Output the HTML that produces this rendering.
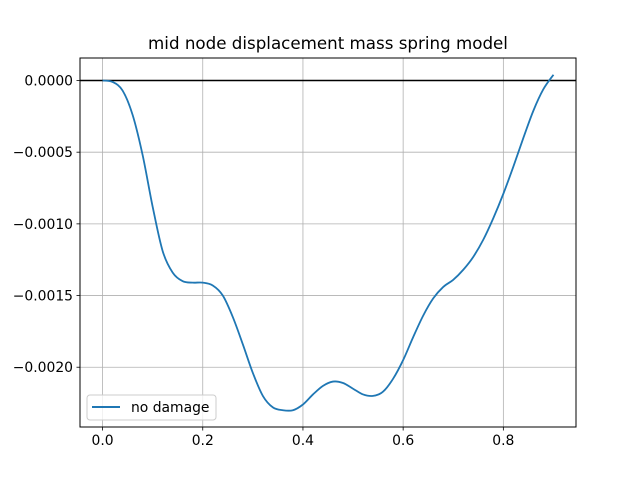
<!DOCTYPE html>
<html><head><meta charset="utf-8"><style>
body{margin:0;background:#fff;}
svg{display:block;font-family:"DejaVu Sans","Liberation Sans",sans-serif;}
</style></head><body>
<svg id="chart" width="640" height="480" viewBox="0 0 640 480">
<rect width="640" height="480" fill="#fff"/>
<text x="328" y="49" font-size="16.7" text-anchor="middle">mid node displacement mass spring model</text>
<g id="grid"></g>
<g id="plot"></g>
<rect x="80" y="58" width="496" height="369" fill="none" stroke="#000" stroke-width="1"/>
<g id="ticks"></g>
<g>
<rect x="87" y="395" width="129" height="25" rx="3" fill="#fff" fill-opacity="0.8" stroke="#ccc"/>
<line x1="92" y1="407" x2="120" y2="407" stroke="#1f77b4" stroke-width="2"/>
<text x="131" y="412" font-size="13.9">no damage</text>
</g>
</svg>
<script>
const xVals=[0,0.02,0.04,0.06,0.08,0.1,0.12,0.14,0.16,0.18,0.2,0.22,0.24,0.26,0.28,0.3,0.32,0.34,0.36,0.38,0.4,0.42,0.44,0.46,0.48,0.5,0.52,0.54,0.56,0.58,0.6,0.62,0.64,0.66,0.68,0.7,0.72,0.74,0.76,0.78,0.8,0.82,0.84,0.86,0.88,0.9];
const yVals=[0,-0.00001,-0.00007,-0.00024,-0.00052,-0.00088,-0.00119,-0.00134,-0.0014,-0.00141,-0.00141,-0.00143,-0.0015,-0.00165,-0.00184,-0.00204,-0.0022,-0.00228,-0.0023,-0.0023,-0.00226,-0.00219,-0.00213,-0.0021,-0.00211,-0.00215,-0.00219,-0.0022,-0.00217,-0.00208,-0.00195,-0.00179,-0.00164,-0.00152,-0.00144,-0.00139,-0.00132,-0.00123,-0.00111,-0.00096,-0.00079,-0.0006,-0.0004,-0.00021,-0.00006,0.00004];
const xTicks=[0,0.2,0.4,0.6,0.8];
const xTickLabels=["0.0","0.2","0.4","0.6","0.8"];
const yTicks=[0,-0.0005,-0.001,-0.0015,-0.002];
const yTickLabels=["0.0000","\u22120.0005","\u22120.0010","\u22120.0015","\u22120.0020"];
const NS="http://www.w3.org/2000/svg";
const L=80,R=576,T=58,B=427;
const xmin=Math.min(...xVals),xmax=Math.max(...xVals),ymin=Math.min(...yVals),ymax=Math.max(...yVals);
const xlo=xmin-(xmax-xmin)*0.05,xhi=xmax+(xmax-xmin)*0.05;
const ylo=ymin-(ymax-ymin)*0.05,yhi=ymax+(ymax-ymin)*0.05;
const sx=v=>L+(v-xlo)/(xhi-xlo)*(R-L);
const sy=v=>B-(v-ylo)/(yhi-ylo)*(B-T);
function mk(t,a,p){const e=document.createElementNS(NS,t);for(const k in a)e.setAttribute(k,a[k]);p.appendChild(e);return e;}
const grid=document.getElementById('grid'),ticks=document.getElementById('ticks'),plot=document.getElementById('plot');
xTicks.forEach((v,i)=>{const x=sx(v);
const g=mk('line',{x1:x,x2:x,y1:T,y2:B,stroke:'#b0b0b0','stroke-width':0.8},grid);


mk('line',{x1:x,x2:x,y1:B,y2:B+3.5,stroke:'#000','stroke-width':0.8},ticks);
const t=mk('text',{x:x,y:B+18,'font-size':13.9,'text-anchor':'middle'},ticks);t.textContent=xTickLabels[i];

});
yTicks.forEach((v,i)=>{const y=sy(v);
const g=mk('line',{x1:L,x2:R,y1:y,y2:y,stroke:'#b0b0b0','stroke-width':0.8},grid);


mk('line',{x1:L-3.5,x2:L,y1:y,y2:y,stroke:'#000','stroke-width':0.8},ticks);
const t=mk('text',{x:L-7,y:y+5,'font-size':13.9,'text-anchor':'end'},ticks);t.textContent=yTickLabels[i];

});
const zl=mk('line',{x1:L,x2:R,y1:sy(0),y2:sy(0),stroke:'#000','stroke-width':1.5},plot);


const P=xVals.map((x,i)=>[sx(x),sy(yVals[i])]);
let d='M'+P[0][0]+','+P[0][1];
for(let i=0;i<P.length-1;i++){const p0=P[Math.max(0,i-1)],p1=P[i],p2=P[i+1],p3=P[Math.min(P.length-1,i+2)];
d+=' C'+(p1[0]+(p2[0]-p0[0])/6)+','+(p1[1]+(p2[1]-p0[1])/6)+' '+(p2[0]-(p3[0]-p1[0])/6)+','+(p2[1]-(p3[1]-p1[1])/6)+' '+p2[0]+','+p2[1];}
const ln=mk('path',{d:d,fill:'none',stroke:'#1f77b4','stroke-width':1.8},plot);


</script>
</body></html>
